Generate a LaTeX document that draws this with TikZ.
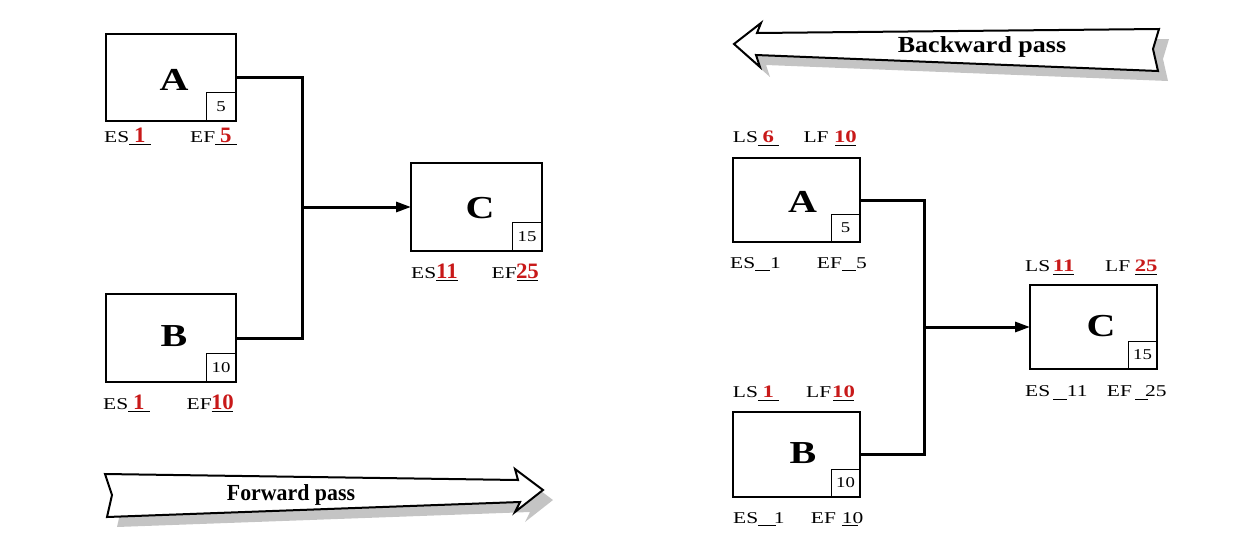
\documentclass[tikz,border=0pt]{standalone}
\usepackage{fontspec}
\setmainfont{Liberation Serif}
\usetikzlibrary{arrows.meta}
\definecolor{valred}{RGB}{200,25,25}
\definecolor{shade}{RGB}{196,196,196}
\newcommand\hs[2]{\scalebox{#1}[1]{#2}}
\newcommand\uvl[2][16.5pt]{\rlap{\rule[-3pt]{#1}{1.3pt}}\makebox[#1]{\hs{0.8}{\fontsize{22}{22}\selectfont\bfseries\color{valred}#2}}}
\newcommand\uvr[2][16pt]{\rlap{\rule[-3pt]{#1}{1.2pt}}\makebox[#1]{\fontsize{17.5}{18}\selectfont\bfseries\color{valred}#2}}
\newcommand\ubar[1]{\rlap{\rule[-3pt]{#1}{1.1pt}}\hspace{#1}}
\tikzset{
  taskbox/.style={draw, line width=2pt, inner sep=0pt, outer sep=0pt, fill=white},
  durbox/.style={draw, line width=1pt, inner sep=0pt, outer sep=0pt, anchor=south east,
     minimum width=30pt, minimum height=29pt, font=\fontsize{15}{15}\selectfont},
  letter/.style={inner sep=0pt, font=\fontsize{32}{32}\selectfont\bfseries},
  lab/.style={inner sep=0pt, anchor=base west, font=\fontsize{16.5}{18}\selectfont},
  conn/.style={line width=3pt},
  arr/.style={line width=3pt, -{Triangle[length=15pt,width=10pt]}},
  passbody/.style={draw, line width=2pt, fill=white, line join=miter},
  passshadow/.style={fill=shade},
  passtext/.style={inner sep=0pt, anchor=base, font=\fontsize{23}{24}\selectfont\bfseries}
}
\begin{document}
\begin{tikzpicture}[x=1pt,y=-1pt]
\useasboundingbox (0,0) rectangle (1234,544);
% ---------- Forward pass arrow ----------
\fill[passshadow, shift={(10,10)}] (105,474) -- (518,480) -- (515,469) -- (543,490) -- (515,512) -- (520,502) -- (107,517) -- (112,495) -- cycle;
\path[passbody] (105,474) -- (518,480) -- (515,469) -- (543,490) -- (515,512) -- (520,502) -- (107,517) -- (112,495) -- cycle;
\node[passtext] (fwd) at (291,500.7) {\hs{0.95}{Forward pass}};
% ---------- Backward pass arrow ----------
\fill[passshadow, shift={(10,10)}] (734,44) -- (761,23) -- (757,33) -- (1159,29) -- (1153,49) -- (1158,71) -- (756,55) -- (760,67) -- cycle;
\path[passbody] (734,44) -- (761,23) -- (757,33) -- (1159,29) -- (1153,49) -- (1158,71) -- (756,55) -- (760,67) -- cycle;
\node[passtext] (bwd) at (982,52) {\hs{1.13}{Backward pass}};
% ---------- Left network ----------
\node[taskbox, minimum width=130pt, minimum height=87pt] (A1) at (171,77.5) {};
\node[taskbox, minimum width=130pt, minimum height=88pt] (B1) at (171,338) {};
\node[taskbox, minimum width=131pt, minimum height=88pt] (C1) at (476.5,207) {};
\node[durbox] (dA1) at (A1.south east) {\hs{1.25}{5}};
\node[durbox] (dB1) at (B1.south east) {\hs{1.25}{10}};
\node[durbox] (dC1) at (C1.south east) {\hs{1.25}{15}};
\node[letter] (lA1) at (174,80) {\hs{1.25}{A}};
\node[letter] (lB1) at (174,336) {\hs{1.25}{B}};
\node[letter] (lC1) at (480,208) {\hs{1.25}{C}};
\coordinate (j1) at (302,207);
\draw[conn] (A1.east) -| (j1) |- (B1.east);
\draw[arr] (j1) -- (C1.west);
\node[lab] (esA1) at (104,142) {\hs{1.3}{ES\uvl{1}}};
\node[lab] (efA1) at (190,142) {\hs{1.3}{EF\uvl{5}}};
\node[lab] (esC1) at (411,278) {\hs{1.3}{ES\uvl{11}}};
\node[lab] (efC1) at (491.5,278) {\hs{1.3}{EF\uvl{25}}};
\node[lab] (esB1) at (103,409) {\hs{1.3}{ES\uvl{1}}};
\node[lab] (efB1) at (186.5,409) {\hs{1.3}{EF\uvl{10}}};
% ---------- Right network ----------
\node[taskbox, minimum width=127pt, minimum height=84pt] (A2) at (796.5,200) {};
\node[taskbox, minimum width=127pt, minimum height=85pt] (B2) at (796.5,454.5) {};
\node[taskbox, minimum width=127pt, minimum height=84pt] (C2) at (1093.5,327) {};
\node[durbox, minimum width=29pt, minimum height=28pt] (dA2) at (A2.south east) {\hs{1.25}{5}};
\node[durbox, minimum width=29pt, minimum height=28pt] (dB2) at (B2.south east) {\hs{1.25}{10}};
\node[durbox, minimum width=29pt, minimum height=28pt] (dC2) at (C2.south east) {\hs{1.25}{15}};
\node[letter] (lA2) at (802.5,202) {\hs{1.25}{A}};
\node[letter] (lB2) at (803,453) {\hs{1.25}{B}};
\node[letter] (lC2) at (1101,326) {\hs{1.25}{C}};
\coordinate (j2) at (924,327);
\draw[conn] (A2.east) -| (j2) |- (B2.east);
\draw[arr] (j2) -- (C2.west);
\node[lab] (lsA2) at (732.7,142.7) {\hs{1.3}{LS\uvr{6}}};
\node[lab] (lfA2) at (803.3,142.7) {\hs{1.3}{LF\hspace{5pt}\uvr{10}}};
\node[lab] (lsB2) at (732.7,397.7) {\hs{1.3}{LS\uvr{1}}};
\node[lab] (lfB2) at (806,397.7) {\hs{1.3}{LF\hspace{1.5pt}\uvr{10}}};
\node[lab] (lsC2) at (1025,271.7) {\hs{1.3}{LS\hspace{2.3pt}\uvr{11}}};
\node[lab] (lfC2) at (1105,271.7) {\hs{1.3}{LF\hspace{4pt}\uvr[16.5pt]{25}}};
\node[lab] (esA2) at (730,268.3) {\hs{1.3}{ES\ubar{11.5pt}1}};
\node[lab] (efA2) at (816.7,268.3) {\hs{1.3}{EF\ubar{11pt}5}};
\node[lab] (esB2) at (733,523.3) {\hs{1.3}{ES\ubar{14pt}\hspace{-2pt}1}};
\node[lab] (efB2) at (810.7,523.3) {\hs{1.3}{EF\hspace{4.5pt}\rlap{\rule[-3pt]{12.5pt}{1.1pt}}10}};
\node[lab] (esC2) at (1025,396.7) {\hs{1.3}{ES\hspace{2.3pt}\ubar{10.5pt}11}};
\node[lab] (efC2) at (1106.7,396.7) {\hs{1.3}{EF\hspace{2.5pt}\ubar{10pt}\hspace{-2.3pt}25}};
\end{tikzpicture}
\end{document}
